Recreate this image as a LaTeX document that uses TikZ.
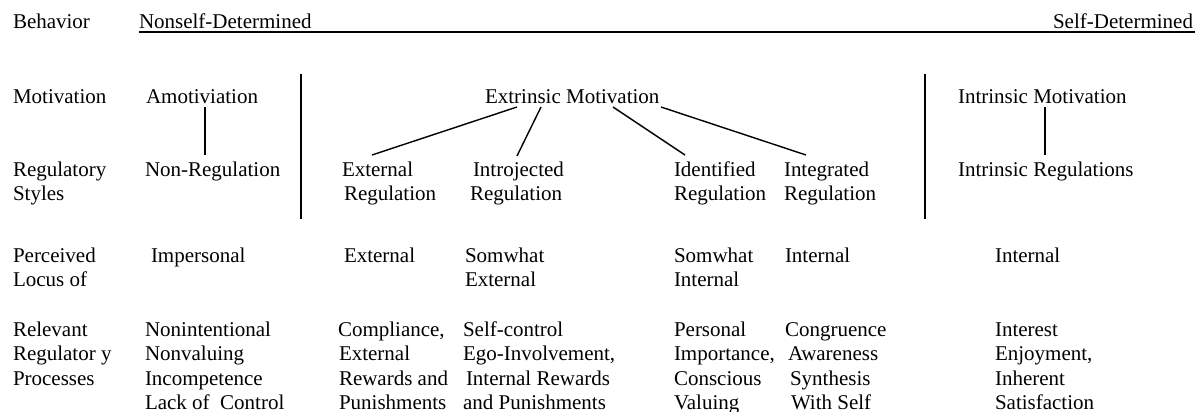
\documentclass[tikz,border=0pt]{standalone}
\usepackage{fontspec}
\setmainfont{Liberation Serif}
\usetikzlibrary{calc}
\newcommand{\mlines}[1]{\begin{tabular}[t]{@{}l@{}}#1\end{tabular}}
\tikzset{
  txt/.style={anchor=base west, inner sep=0pt, outer sep=0pt, font=\fontsize{21}{24.5}\selectfont},
  txtr/.style={txt, anchor=base east},
  conn/.style={line width=1.4pt},
  divider/.style={line width=2pt},
  uline/.style={line width=1.2pt}
}
\begin{document}
\begin{tikzpicture}[x=1pt, y=-1pt]
\useasboundingbox (0,0) rectangle (1195,412);
% Row 1: Behavior
\node[txt] (behL) at (13,29) {Behavior};
\node[txt] (nsd) at (139,29) {Nonself-Determined};
\node[txtr] (sd) at (1193,29) {Self-Determined};
\draw[uline] ($(nsd.base west)+(0,3)$) -- ($(sd.base east)+(2,3)$);
% Row 2: Motivation
\node[txt] (motL) at (13,103) {Motivation};
\node[txt] (amo) at (146,103) {Amotiviation};
\node[txt] (ext) at (485,103) {Extrinsic Motivation};
\node[txt] (intm) at (958,103) {Intrinsic Motivation};
% Row 3: Regulatory styles
\node[txt] (regL) at (13,176) {\mlines{Regulatory\\Styles}};
\node[txt] (nonreg) at (145,176) {Non-Regulation};
\node[txt] (extreg) at (342,176) {\mlines{External\\\hspace*{2pt}Regulation}};
\node[txt] (introreg) at (470,176) {\mlines{\hspace*{3pt}Introjected\\Regulation}};
\node[txt] (identreg) at (674,176) {\mlines{Identified\\Regulation}};
\node[txt] (integreg) at (784,176) {\mlines{Integrated\\Regulation}};
\node[txt] (intreg) at (958,176) {Intrinsic Regulations};
% Row 4: Perceived locus
\node[txt] (locL) at (13,262) {\mlines{Perceived\\Locus of}};
\node[txt] (loc1) at (151,262) {Impersonal};
\node[txt] (loc2) at (344,262) {External};
\node[txt] (loc3) at (465,262) {\mlines{Somwhat\\External}};
\node[txt] (loc4) at (674,262) {\mlines{Somwhat\\Internal}};
\node[txt] (loc5) at (785,262) {Internal};
\node[txt] (loc6) at (995,262) {Internal};
% Row 5: Processes
\node[txt] (procL) at (13,336) {\mlines{Relevant\\Regulator y\\Processes}};
\node[txt] (p1) at (145,336) {\mlines{Nonintentional\\Nonvaluing\\Incompetence\\Lack of\ \ Control}};
\node[txt] (p2) at (338,336) {\mlines{Compliance,\\\hspace*{1pt}External\\\hspace*{1pt}Rewards and\\\hspace*{1pt}Punishments}};
\node[txt] (p3) at (463,336) {\mlines{Self-control\\Ego-Involvement,\\\hspace*{3pt}Internal Rewards\\and Punishments}};
\node[txt] (p4) at (674,336) {\mlines{Personal\\Importance,\\Conscious\\Valuing}};
\node[txt] (p5) at (785,336) {\mlines{Congruence\\\hspace*{3pt}Awareness\\\hspace*{5pt}Synthesis\\\hspace*{6pt}With Self}};
\node[txt] (p6) at (995,336) {\mlines{Interest\\Enjoyment,\\Inherent\\Satisfaction}};
% Dividers
\coordinate (d1t) at (301,74);
\coordinate (d1b) at (301,219);
\coordinate (d2t) at (925,74);
\coordinate (d2b) at (925,219);
\draw[divider] (d1t) -- (d1b);
\draw[divider] (d2t) -- (d2b);
% Connectors
\draw[conn] ($(amo.base west)+(59,4)$) -- ($(nonreg.base west)+(60,-21)$);
\draw[conn] ($(intm.base west)+(87,4)$) -- ($(intreg.base west)+(87,-21)$);
\draw[conn] ($(ext.base west)+(32,4)$) -- ($(extreg.base west)+(30,-21)$);
\draw[conn] ($(ext.base west)+(56,4)$) -- ($(introreg.base west)+(47,-20)$);
\draw[conn] ($(ext.base west)+(128,4)$) -- ($(identreg.base west)+(11,-21)$);
\draw[conn] ($(ext.base west)+(176,4)$) -- ($(integreg.base west)+(22,-21)$);
\end{tikzpicture}
\end{document}
